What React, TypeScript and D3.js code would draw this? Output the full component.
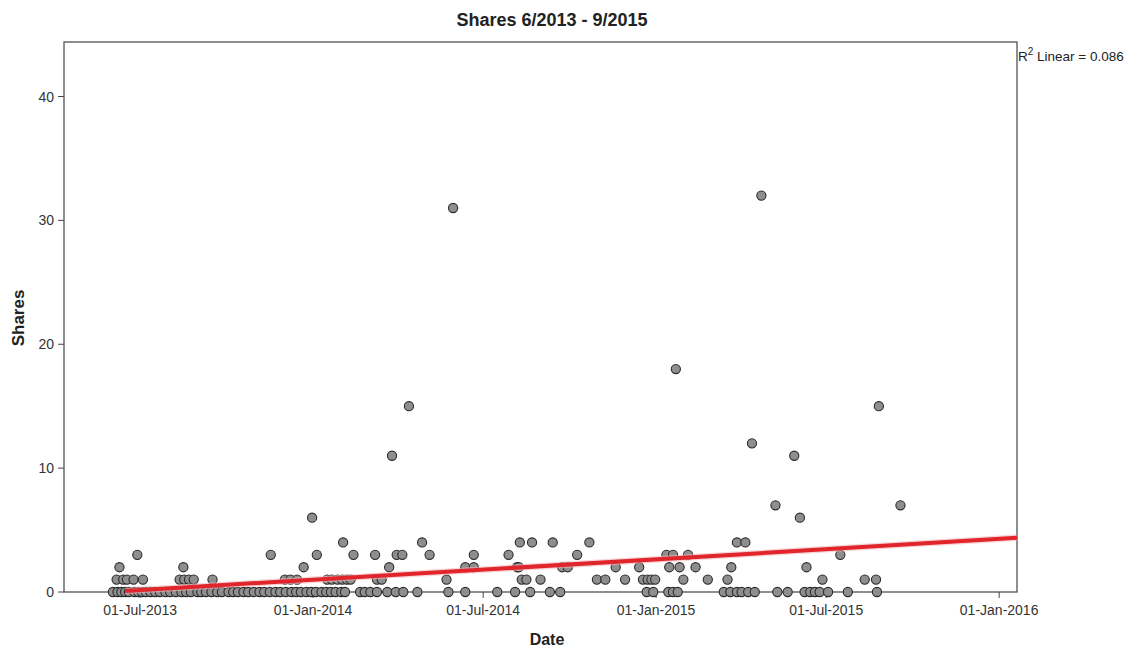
import React from "react";
import * as d3 from "d3";

const chartTitle = "Shares 6/2013 - 9/2015";
const xTitle = "Date";
const yTitle = "Shares";
const fitLabel = "Linear = 0.086";

const xDomain = ["2013-04-11", "2016-01-20"];
const yDomain = [0, 44.4];
const xTickDates = ["2013-07-01", "2014-01-01", "2014-07-01", "2015-01-01", "2015-07-01", "2016-01-01"];
const yTickValues = [0, 10, 20, 30, 40];

// [date, shares]
const posts: [string, number][] = [
  // zero shares
  ["2013-06-02", 0], ["2013-06-07", 0], ["2013-06-11", 0], ["2013-06-15", 0], ["2013-06-19", 0],
  ["2013-06-25", 0], ["2013-06-29", 0], ["2013-07-03", 0], ["2013-07-07", 0], ["2013-07-12", 0],
  ["2013-07-17", 0], ["2013-07-22", 0], ["2013-07-28", 0], ["2013-08-02", 0], ["2013-08-08", 0],
  ["2013-08-14", 0], ["2013-08-19", 0], ["2013-08-24", 0], ["2013-08-31", 0], ["2013-09-04", 0],
  ["2013-09-09", 0], ["2013-09-15", 0], ["2013-09-21", 0], ["2013-09-26", 0], ["2013-10-03", 0],
  ["2013-10-08", 0], ["2013-10-13", 0], ["2013-10-19", 0], ["2013-10-24", 0], ["2013-10-30", 0],
  ["2013-11-05", 0], ["2013-11-10", 0], ["2013-11-16", 0], ["2013-11-22", 0], ["2013-11-27", 0],
  ["2013-12-03", 0], ["2013-12-09", 0], ["2013-12-14", 0], ["2013-12-19", 0], ["2013-12-25", 0],
  ["2013-12-30", 0], ["2014-01-04", 0], ["2014-01-10", 0], ["2014-01-15", 0], ["2014-01-20", 0],
  ["2014-01-25", 0], ["2014-01-31", 0], ["2014-02-04", 0], ["2014-02-20", 0], ["2014-02-25", 0],
  ["2014-03-03", 0], ["2014-03-10", 0], ["2014-03-21", 0], ["2014-03-30", 0], ["2014-04-07", 0],
  ["2014-04-22", 0], ["2014-05-25", 0], ["2014-06-12", 0], ["2014-07-16", 0], ["2014-08-04", 0],
  ["2014-08-20", 0], ["2014-09-10", 0], ["2014-09-21", 0], ["2014-12-22", 0], ["2014-12-29", 0],
  ["2015-01-14", 0], ["2015-01-19", 0], ["2015-01-24", 0], ["2015-03-14", 0], ["2015-03-21", 0],
  ["2015-03-28", 0], ["2015-04-02", 0], ["2015-04-09", 0], ["2015-04-16", 0], ["2015-05-10", 0],
  ["2015-05-21", 0], ["2015-06-08", 0], ["2015-06-14", 0], ["2015-06-19", 0], ["2015-06-24", 0],
  ["2015-07-03", 0], ["2015-07-24", 0], ["2015-08-24", 0],
  // one share
  ["2013-06-06", 1], ["2013-06-13", 1], ["2013-06-17", 1], ["2013-06-24", 1], ["2013-07-04", 1],
  ["2013-08-12", 1], ["2013-08-17", 1], ["2013-08-22", 1], ["2013-08-27", 1], ["2013-09-16", 1],
  ["2013-12-02", 1], ["2013-12-08", 1], ["2013-12-15", 1], ["2014-01-16", 1], ["2014-01-21", 1],
  ["2014-01-27", 1], ["2014-02-01", 1], ["2014-02-06", 1], ["2014-02-10", 1], ["2014-03-10", 1],
  ["2014-03-15", 1], ["2014-05-23", 1], ["2014-08-11", 1], ["2014-08-16", 1], ["2014-08-31", 1],
  ["2014-10-30", 1], ["2014-11-08", 1], ["2014-11-29", 1], ["2014-12-18", 1], ["2014-12-23", 1],
  ["2014-12-27", 1], ["2014-12-31", 1], ["2015-01-30", 1], ["2015-02-25", 1], ["2015-03-18", 1],
  ["2015-06-27", 1], ["2015-08-11", 1], ["2015-08-23", 1],
  // two shares
  ["2013-06-09", 2], ["2013-08-16", 2], ["2013-12-22", 2], ["2014-03-23", 2], ["2014-06-12", 2],
  ["2014-06-21", 2], ["2014-08-06", 2], ["2014-08-08", 2], ["2014-09-23", 2], ["2014-09-29", 2],
  ["2014-11-19", 2], ["2014-12-14", 2], ["2015-01-15", 2], ["2015-01-26", 2], ["2015-02-12", 2],
  ["2015-03-22", 2], ["2015-06-10", 2],
  // three shares
  ["2013-06-28", 3], ["2013-11-17", 3], ["2014-01-05", 3], ["2014-02-13", 3], ["2014-03-08", 3],
  ["2014-03-31", 3], ["2014-04-06", 3], ["2014-05-05", 3], ["2014-06-21", 3], ["2014-07-28", 3],
  ["2014-10-09", 3], ["2015-01-12", 3], ["2015-01-19", 3], ["2015-02-04", 3], ["2015-07-16", 3],
  // four shares
  ["2014-02-02", 4], ["2014-04-27", 4], ["2014-08-09", 4], ["2014-08-22", 4], ["2014-09-13", 4],
  ["2014-10-22", 4], ["2015-03-28", 4], ["2015-04-06", 4],
  // larger counts
  ["2013-12-31", 6], ["2015-06-03", 6], ["2015-05-08", 7], ["2015-09-18", 7],
  ["2014-03-26", 11], ["2015-05-28", 11], ["2015-04-13", 12], ["2014-04-13", 15], ["2015-08-26", 15],
  ["2015-01-22", 18], ["2014-05-30", 31], ["2015-04-23", 32],
];

// Linear fit: [date, fitted shares]
const fitLine: [string, number][] = [
  ["2013-06-15", 0.09],
  ["2016-01-20", 4.37],
];

const W = 1138;
const H = 653;
const plot = { left: 64, right: 1017, top: 42, bottom: 592 };
const font = "'Liberation Sans', Arial, sans-serif";

export default function App() {
  const parse = d3.timeParse("%Y-%m-%d");
  const x = d3
    .scaleTime()
    .domain(xDomain.map((d) => parse(d) as Date))
    .range([plot.left, plot.right]);
  const y = d3.scaleLinear().domain(yDomain).range([plot.bottom, plot.top]);
  const fmt = d3.timeFormat("%d-%b-%Y");
  const line = d3
    .line<[string, number]>()
    .x((d) => x(parse(d[0]) as Date))
    .y((d) => y(d[1]));

  return (
    <svg
      width={W}
      height={H}
      style={{ position: "absolute", left: 0, top: 0, background: "#fff" }}
      fontFamily={font}
    >
      <rect x={0} y={0} width={W} height={H} fill="#fff" />
      <text x={552} y={26} textAnchor="middle" fontSize={18} fontWeight="bold" fill="#222">
        {chartTitle}
      </text>
      {/* y ticks */}
      {yTickValues.map((v) => (
        <g key={v}>
          <line x1={plot.left - 6} x2={plot.left} y1={y(v)} y2={y(v)} stroke="#444" />
          <text x={plot.left - 10} y={y(v) + 5} textAnchor="end" fontSize={14} fill="#333">
            {v}
          </text>
        </g>
      ))}
      {/* x ticks */}
      {xTickDates.map((s) => {
        const px = x(parse(s) as Date);
        return (
          <g key={s}>
            <line x1={px} x2={px} y1={plot.bottom} y2={plot.bottom + 6} stroke="#444" />
            <text x={px} y={plot.bottom + 23} textAnchor="middle" fontSize={14} fill="#333">
              {fmt(parse(s) as Date)}
            </text>
          </g>
        );
      })}
      {/* frame */}
      <rect
        x={plot.left}
        y={plot.top}
        width={plot.right - plot.left}
        height={plot.bottom - plot.top}
        fill="none"
        stroke="#444"
        strokeWidth={1.2}
      />
      {/* points */}
      {posts.map((p, i) => (
        <circle
          key={i}
          cx={x(parse(p[0]) as Date)}
          cy={y(p[1])}
          r={4.6}
          fill="#8e8e8e"
          stroke="#2b2b2b"
          strokeWidth={1.1}
        />
      ))}
      {/* fit line */}
      <path d={line(fitLine) || ""} fill="none" stroke="#f4b8b8" strokeWidth={6.5} opacity={0.6} />
      <path d={line(fitLine) || ""} fill="none" stroke="#e0252c" strokeWidth={4} />
      {/* R2 label */}
      <text x={plot.right + 1} y={61} fontSize={13.5} fill="#222">
        R<tspan dy={-6} fontSize={10}>2</tspan>
        <tspan dy={6}> {fitLabel}</tspan>
      </text>
      {/* axis titles */}
      <text x={547} y={645} textAnchor="middle" fontSize={16} fontWeight="bold" fill="#222">
        {xTitle}
      </text>
      <text
        transform={`translate(24, 318) rotate(-90)`}
        textAnchor="middle"
        fontSize={17}
        fontWeight="bold"
        fill="#222"
      >
        {yTitle}
      </text>
    </svg>
  );
}
